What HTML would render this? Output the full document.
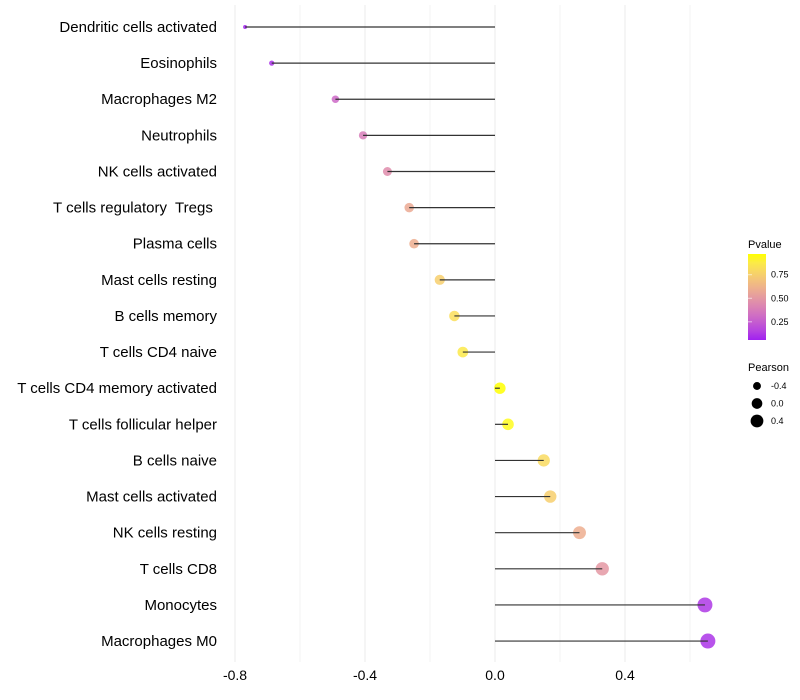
<!DOCTYPE html>
<html><head><meta charset="utf-8"><style>
body{margin:0;background:#fff;}
svg{display:block;font-family:"Liberation Sans",sans-serif;}
#ylabels text{white-space:pre;}
</style></head><body>
<svg id="chart" width="800" height="700">
<defs><linearGradient id="pg" x1="0" y1="1" x2="0" y2="0"></linearGradient></defs>
<g id="grid"></g>
<g id="marks"></g>
<g id="ylabels"></g>
<g id="xlabels"></g>
<g>
<text x="748" y="248" font-size="11">Pvalue</text>
<rect x="748" y="254" width="18" height="86" fill="url(#pg)"/>
<g id="cticks"></g>
</g>
<g>
<text x="748" y="371" font-size="11">Pearson</text>
<g id="sizeleg"></g>
</g>
</svg>
<script>
const categories=["Dendritic cells activated","Eosinophils","Macrophages M2","Neutrophils","NK cells activated","T cells regulatory  Tregs ","Plasma cells","Mast cells resting","B cells memory","T cells CD4 naive","T cells CD4 memory activated","T cells follicular helper","B cells naive","Mast cells activated","NK cells resting","T cells CD8","Monocytes","Macrophages M0"];
const pearson=[-0.769,-0.687,-0.491,-0.406,-0.331,-0.264,-0.249,-0.17,-0.125,-0.099,0.015,0.04,0.15,0.17,0.26,0.33,0.646,0.655];
const pvalue=[0.06,0.1,0.3,0.38,0.45,0.58,0.6,0.75,0.82,0.87,0.97,0.95,0.8,0.75,0.6,0.5,0.12,0.11];
const xTicks=[-0.8,-0.4,0.0,0.4];
const xMinor=[-0.6,-0.2,0.2,0.6];
const cTicks=[0.25,0.5,0.75];
const sizeTicks=[-0.4,0.0,0.4];
const NS="http://www.w3.org/2000/svg";
const x=v=>495+v*325;
const y=i=>27+i*36.12;
const pMin=0.057,pMax=0.97;
const cy=p=>340-(p-pMin)/(pMax-pMin)*86;
// Lab interpolation purple -> yellow
function toLin(c){c/=255;return c<=0.04045?c/12.92:Math.pow((c+0.055)/1.055,2.4);}
function toS(c){c=c<=0.0031308?12.92*c:1.055*Math.pow(c,1/2.4)-0.055;return Math.round(Math.max(0,Math.min(1,c))*255);}
function f(t){return t>0.008856?Math.cbrt(t):7.787*t+16/116;}
function fi(t){return t>0.206893?t*t*t:(t-16/116)/7.787;}
const Wn=[0.95047,1,1.08883];
function rgb2lab(c){const [r,g,b]=c.map(toLin);const X=(0.4124*r+0.3576*g+0.1805*b)/Wn[0],Y=(0.2126*r+0.7152*g+0.0722*b)/Wn[1],Z=(0.0193*r+0.1192*g+0.9505*b)/Wn[2];return [116*f(Y)-16,500*(f(X)-f(Y)),200*(f(Y)-f(Z))];}
function lab2rgb(l){const fy=(l[0]+16)/116,fx=fy+l[1]/500,fz=fy-l[2]/200;const X=fi(fx)*Wn[0],Y=fi(fy)*Wn[1],Z=fi(fz)*Wn[2];
return [toS(3.2406*X-1.5372*Y-0.4986*Z),toS(-0.9689*X+1.8758*Y+0.0415*Z),toS(0.0557*X-0.2040*Y+1.0570*Z)];}
const L0=rgb2lab([160,32,240]),L1=rgb2lab([255,255,0]);
function colT(t){const l=L0.map((v,k)=>v+(L1[k]-v)*t);const c=lab2rgb(l);return `rgb(${c[0]},${c[1]},${c[2]})`;}
function col(p){return colT(Math.max(0,Math.min(1,(p-pMin)/(pMax-pMin))));}
const r=v=>Math.sqrt(32.2+36.7*v);
function mk(tag,at,parent){const e=document.createElementNS(NS,tag);for(const k in at)e.setAttribute(k,at[k]);(typeof parent==='string'?document.getElementById(parent):parent).appendChild(e);return e;}
const grad=document.getElementById('pg');
for(let k=0;k<=10;k++){const s=mk('stop',{offset:k/10,'stop-color':colT(k/10)},grad);}
xTicks.concat(xMinor).forEach(v=>{const l=mk('line',{x1:x(v),x2:x(v),y1:5,y2:662,stroke:xTicks.includes(v)?'#ebebeb':'#f3f3f3','stroke-width':1},'grid');

});
xTicks.forEach(v=>{const t=mk('text',{x:x(v),y:680,'font-size':14,'text-anchor':'middle'},'xlabels');t.textContent=v.toFixed(1);

});
categories.forEach((c,i)=>{
const t=mk('text',{x:217,y:y(i)+5,'font-size':15,'text-anchor':'end'},'ylabels');t.textContent=c;


const d=mk('circle',{cx:x(pearson[i]),cy:y(i),r:r(pearson[i]),fill:col(pvalue[i]),'fill-opacity':0.85},'marks');


const l=mk('line',{x1:x(0),x2:x(pearson[i]),y1:y(i),y2:y(i),stroke:'#333','stroke-width':1.2},'marks');


});
cTicks.forEach(p=>{const a=mk('line',{x1:748,x2:752,y1:cy(p),y2:cy(p),stroke:'#fff','stroke-opacity':0.6},'cticks');


const t=mk('text',{x:771,y:cy(p)+3,'font-size':9},'cticks');t.textContent=p.toFixed(2);

});
sizeTicks.forEach((v,i)=>{const yy=386+i*17.5;const c=mk('circle',{cx:757,cy:yy,r:Math.sqrt(28.3+31.6*v),fill:'#000'},'sizeleg');


const t=mk('text',{x:771,y:yy+3,'font-size':9},'sizeleg');t.textContent=v.toFixed(1);

});
</script>
</body></html>
